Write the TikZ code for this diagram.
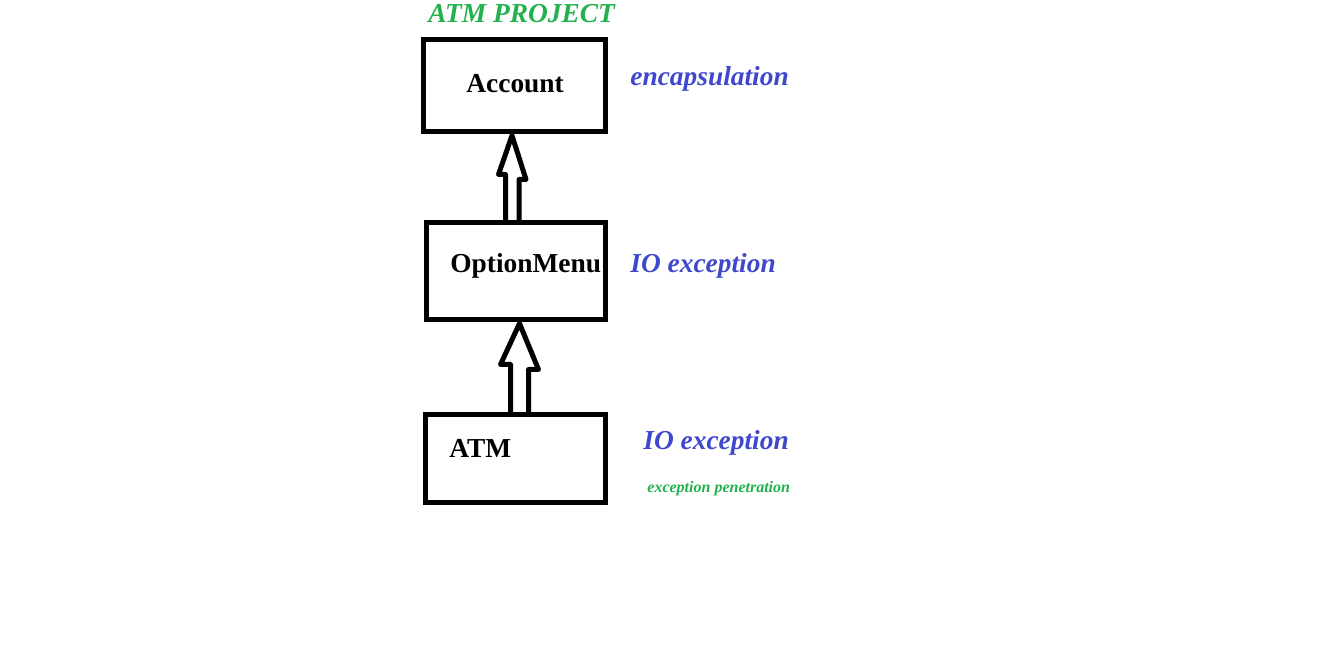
\documentclass[tikz,border=0pt]{standalone}
\usepackage{fontspec}
\setmainfont{Liberation Serif}
\usepackage{xcolor}
\usepackage{tikz}
\definecolor{paintgreen}{RGB}{34,177,76}
\definecolor{paintblue}{RGB}{63,72,204}
\newcommand{\bigtxt}{\fontsize{13.7}{16}\selectfont\bfseries}
\newcommand{\smalltxt}{\fontsize{8}{10}\selectfont\bfseries\itshape}

\begin{document}
\begin{tikzpicture}[x=0.5pt, y=-0.5pt,
  classbox/.style={draw, line width=2.5pt, inner sep=0},
  hollowarrow/.style={draw, line width=2.5pt, line join=round},
  txt/.style={anchor=base west, inner sep=0, font=\bigtxt}]
  \useasboundingbox (0,0) rectangle (1323,646);
  % class boxes
  \node[classbox, minimum width=91pt, minimum height=46pt] (account) at (514.5,85.5) {};
  \node[classbox, minimum width=89.5pt, minimum height=48.5pt] (optmenu) at (516,271) {};
  \node[classbox, minimum width=90pt, minimum height=44pt] (atm) at (515.5,458.5) {};
  % names inside the boxes
  \node[txt] (accountname) at (466,93) {Account};
  \node[txt] (optmenuname) at (450,273) {OptionMenu};
  \node[txt] (atmname) at (449,458) {ATM};
  % hollow arrows: OptionMenu -> Account, ATM -> OptionMenu
  \draw[hollowarrow] (optmenu.north) ++(-10.5,0) -- ++(0,-45.5) -- ++(-7,0)
    -- ([shift={(-2.5,1.5)}]account.south) -- ++(14,44) -- ++(-7,0) -- ++(0,45.5);
  \draw[hollowarrow] (atm.north) ++(-5,0) -- ++(0,-47.5) -- ++(-10,0)
    -- ([shift={(3.5,1.5)}]optmenu.south) -- ++(19,46) -- ++(-10,0) -- ++(0,47.5);
  % title and side notes
  \node[txt, text=paintgreen, font=\bigtxt\itshape] (title) at (428,23) {ATM PROJECT};
  \node[txt, text=paintblue, font=\bigtxt\itshape] (encap) at (630,86) {encapsulation};
  \node[txt, text=paintblue, font=\bigtxt\itshape] (ioexcA) at (630,273) {IO exception};
  \node[txt, text=paintblue, font=\bigtxt\itshape] (ioexcB) at (643,450) {IO exception};
  \node[txt, text=paintgreen, font=\smalltxt] (penetr) at (647,493) {exception penetration};
\end{tikzpicture}
\end{document}
